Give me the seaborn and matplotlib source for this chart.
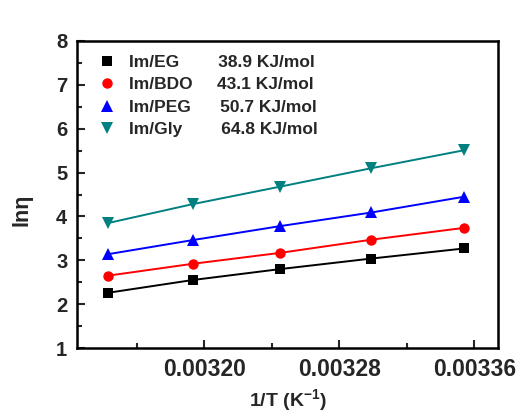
import numpy as np
import pandas as pd
import matplotlib
matplotlib.use("Agg")
import matplotlib.pyplot as plt
import seaborn as sns
from matplotlib.lines import Line2D
from matplotlib.ticker import MultipleLocator

inv_T = [0.003143, 0.003193, 0.003245, 0.003299, 0.003354]
ln_eta_EG = [2.26, 2.55, 2.80, 3.04, 3.27]
ln_eta_BDO = [2.65, 2.92, 3.17, 3.47, 3.74]
ln_eta_PEG = [3.14, 3.46, 3.78, 4.09, 4.45]
ln_eta_Gly = [3.85, 4.28, 4.68, 5.10, 5.51]
series_names = ["Im/EG", "Im/BDO", "Im/PEG", "Im/Gly"]
activation = ["38.9 KJ/mol", "43.1 KJ/mol", "50.7 KJ/mol", "64.8 KJ/mol"]
colors = ["#000000", "#ff0000", "#0000ff", "#008080"]
markers = ["s", "o", "^", "v"]
x_ticks = [0.00320, 0.00328, 0.00336]
x_ticklabels = ["0.00320", "0.00328", "0.00336"]
y_ticks = [1, 2, 3, 4, 5, 6, 7, 8]

sns.set_theme(style="white")
plt.rcParams["font.family"] = ["Liberation Sans", "DejaVu Sans"]
plt.rcParams["font.weight"] = "bold"
plt.rcParams["mathtext.fontset"] = "custom"
plt.rcParams["mathtext.rm"] = "Liberation Sans:bold"
plt.rcParams["mathtext.bf"] = "Liberation Sans:bold"
plt.rcParams["mathtext.default"] = "rm"

df = pd.concat([
    pd.DataFrame({"x": inv_T, "y": vals, "series": name})
    for name, vals in zip(series_names, [ln_eta_EG, ln_eta_BDO, ln_eta_PEG, ln_eta_Gly])
])

fig = plt.figure(figsize=(5.22, 4.12), dpi=100)
ax = fig.add_axes([0.1475, 0.1553, 0.954 - 0.1475, 0.9005 - 0.1553])

msizes = {"s": 6.5, "o": 7.5, "^": 8, "v": 8}
for name, m, c in zip(series_names, markers, colors):
    sub = df[df["series"] == name]
    sns.lineplot(data=sub, x="x", y="y", color=c, marker=m,
                 markersize=msizes[m], markeredgewidth=0, linewidth=1.4,
                 legend=False, ax=ax)

ax.set_xlim(0.0031245, 0.003374)
ax.set_ylim(1, 8)
ax.xaxis.set_minor_locator(MultipleLocator(0.00004))
ax.yaxis.set_minor_locator(MultipleLocator(0.5))
ax.set_xticks(x_ticks, labels=x_ticklabels, fontsize=16.5, fontweight="bold")
ax.set_yticks(y_ticks, labels=[str(v) for v in y_ticks], fontsize=14.5, fontweight="bold")
ax.tick_params(axis="both", which="both", direction="in", bottom=True, left=True,
               top=False, right=False, width=1.5)
ax.tick_params(axis="both", which="major", length=6)
ax.tick_params(axis="both", which="minor", length=3.5)
ax.tick_params(axis="x", pad=7)
ax.tick_params(axis="y", pad=7)
for s in ax.spines.values():
    s.set_linewidth(1.8)
    s.set_color("black")

ax.set_xlabel(r"1/T (K$^{-1}$)", fontsize=14, fontweight="bold")
ax.set_ylabel("lnη", fontsize=15.5, fontweight="bold")
ax.xaxis.set_label_coords(0.5, -0.128)
ax.yaxis.set_label_coords(-0.105, 0.45)

pads = [8, 5, 6, 8]
handles = [Line2D([], [], linestyle="none", marker=m, color=c, markersize=msizes[m], markeredgewidth=0)
           for m, c in zip(markers, colors)]
labels = [n + " " * p + a for n, p, a in zip(series_names, pads, activation)]
leg = ax.legend(handles, labels, loc="upper left", frameon=False,
                prop={"size": 12.5, "weight": "bold"}, handlelength=1.0,
                handletextpad=0.75, labelspacing=0.42, borderaxespad=0.0,
                bbox_to_anchor=(0.035, 0.978))

fig.savefig("out.png", dpi=100, facecolor="white")
